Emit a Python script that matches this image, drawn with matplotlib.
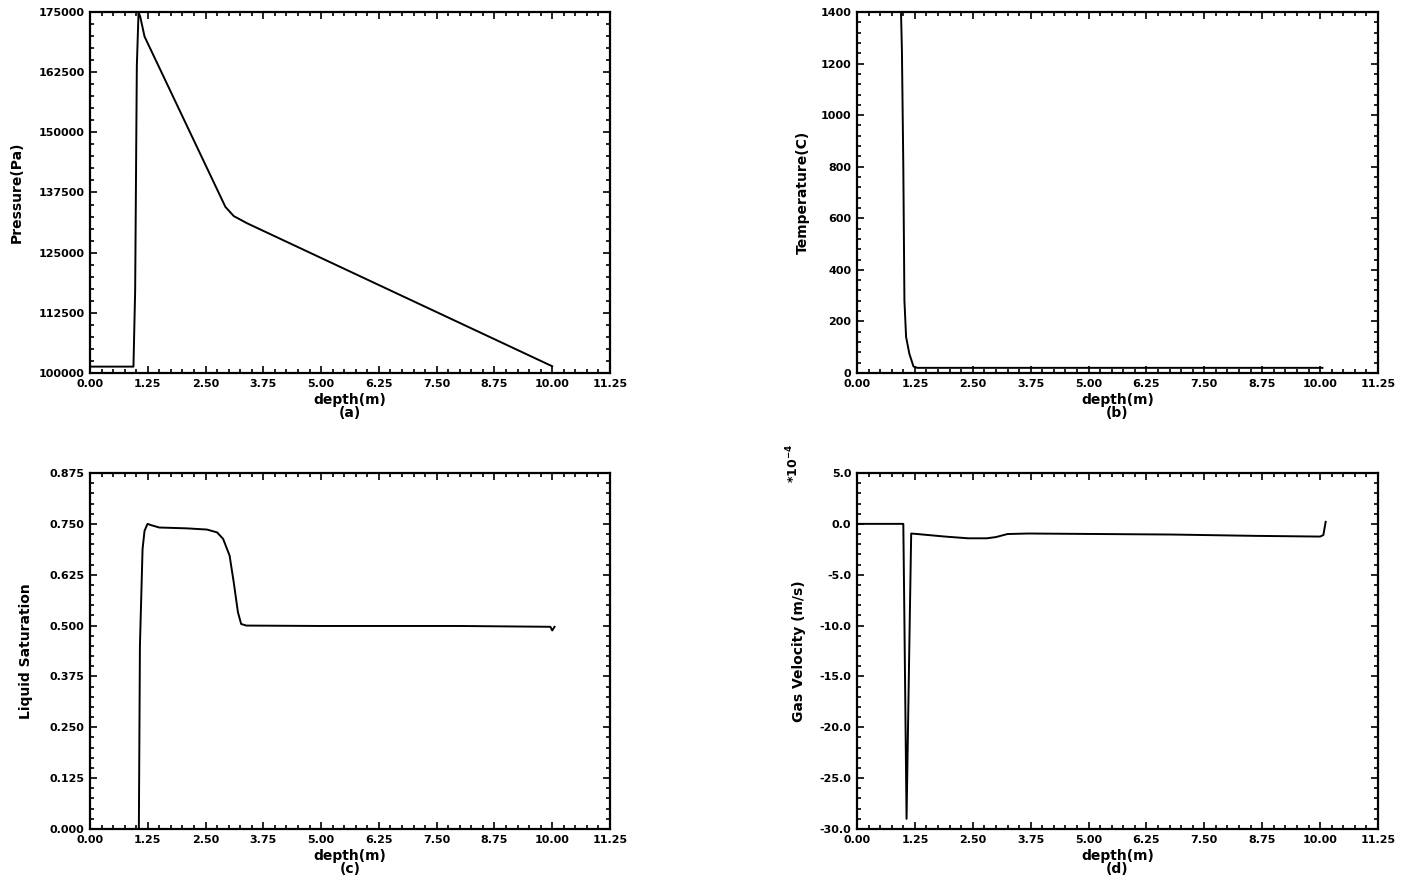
import numpy as np
import matplotlib
matplotlib.use("Agg")
import matplotlib.pyplot as plt
from matplotlib.ticker import MultipleLocator, AutoMinorLocator, FormatStrFormatter

# Data
# -----------------------------------------------------------------------------
depth_p = [0.0, 0.94, 0.977, 1.013, 1.05, 1.085, 1.18, 2.93, 3.11, 3.4, 10.0]
pressure = [101325, 101325, 117150, 163700, 174900, 174100, 169900,
            134500, 132600, 131100, 101400]

depth_t = [0.95, 0.97, 1.0, 1.024, 1.06, 1.13, 1.22, 1.3, 10.05]
temperature = [1400, 1250, 800, 280, 140, 75, 25, 20, 20]

depth_s = [1.057, 1.08, 1.137, 1.18, 1.245, 1.317, 1.5, 2.08, 2.53, 2.75,
           2.88, 3.02, 3.11, 3.2, 3.27, 3.38, 5.0, 8.0, 9.96, 10.0, 10.05]
saturation = [0.0, 0.45, 0.688, 0.733, 0.750, 0.747, 0.741, 0.739, 0.736,
              0.729, 0.713, 0.672, 0.606, 0.533, 0.504, 0.500, 0.499,
              0.499, 0.497, 0.488, 0.497]

depth_v = [0.0, 1.0, 1.02, 1.07, 1.13, 1.17, 1.3, 1.9, 2.4, 2.8, 3.0,
           3.25, 3.7, 6.8, 8.6, 10.0, 10.07, 10.12]
gas_velocity = [0.0, 0.0, -8.0, -29.0, -12.0, -0.95, -1.0, -1.25, -1.42,
                -1.42, -1.3, -1.0, -0.95, -1.05, -1.18, -1.25, -1.1, 0.2]

x_ticks = np.arange(0, 11.26, 1.25)

panels = [
    (depth_p, pressure, "Pressure(Pa)", (100000, 175000), 12500, "%d", "(a)"),
    (depth_t, temperature, "Temperature(C)", (0, 1400), 200, "%d", "(b)"),
    (depth_s, saturation, "Liquid Saturation", (0, 0.875), 0.125, "%.3f", "(c)"),
    (depth_v, gas_velocity, "Gas Velocity (m/s)", (-30, 5), 5, "%.1f", "(d)"),
]

# axes boxes in figure fractions (left, bottom, width, height)
W, H = 1409, 882
boxes = [
    [90 / W, 1 - 373 / H, 520 / W, 361 / H],
    [857 / W, 1 - 373 / H, 521 / W, 361 / H],
    [90 / W, 1 - 829 / H, 520 / W, 356 / H],
    [857 / W, 1 - 829 / H, 521 / W, 356 / H],
]
label_x = [-0.128, -0.091, -0.110, -0.098]

fig = plt.figure(figsize=(W / 100, H / 100), dpi=100)

for (x, y, ylabel, ylim, ystep, yfmt, tag), box, lx in zip(panels, boxes, label_x):
    ax = fig.add_axes(box)
    ax.plot(x, y, color="black", linewidth=1.4)
    ax.set_xlim(0, 11.25)
    ax.set_ylim(*ylim)
    ax.set_xticks(x_ticks)
    ax.yaxis.set_major_locator(MultipleLocator(ystep))
    ax.xaxis.set_minor_locator(AutoMinorLocator(5))
    ax.yaxis.set_minor_locator(AutoMinorLocator(5))
    ax.xaxis.set_major_formatter(FormatStrFormatter("%.2f"))
    ax.yaxis.set_major_formatter(FormatStrFormatter(yfmt))
    ax.tick_params(which="both", direction="in", top=True, right=True,
                   width=1.2, labelsize=8)
    ax.tick_params(which="major", length=5, pad=4)
    ax.tick_params(which="minor", length=3)
    for lab in ax.get_xticklabels() + ax.get_yticklabels():
        lab.set_fontweight("bold")
    for sp in ax.spines.values():
        sp.set_linewidth(1.6)
    ax.set_xlabel("depth(m)\n" + tag, fontsize=10, fontweight="bold",
                  linespacing=0.95, labelpad=3)
    ax.set_ylabel(ylabel, fontsize=10, fontweight="bold")
    ax.yaxis.set_label_coords(lx, 0.5)

fig.text(793 / W, 1 - 463 / H, r"*10$^{\mathbf{-4}}$", rotation=90,
         fontsize=9, fontweight="bold", ha="center", va="center")

plt.savefig("out.png", dpi=100)
